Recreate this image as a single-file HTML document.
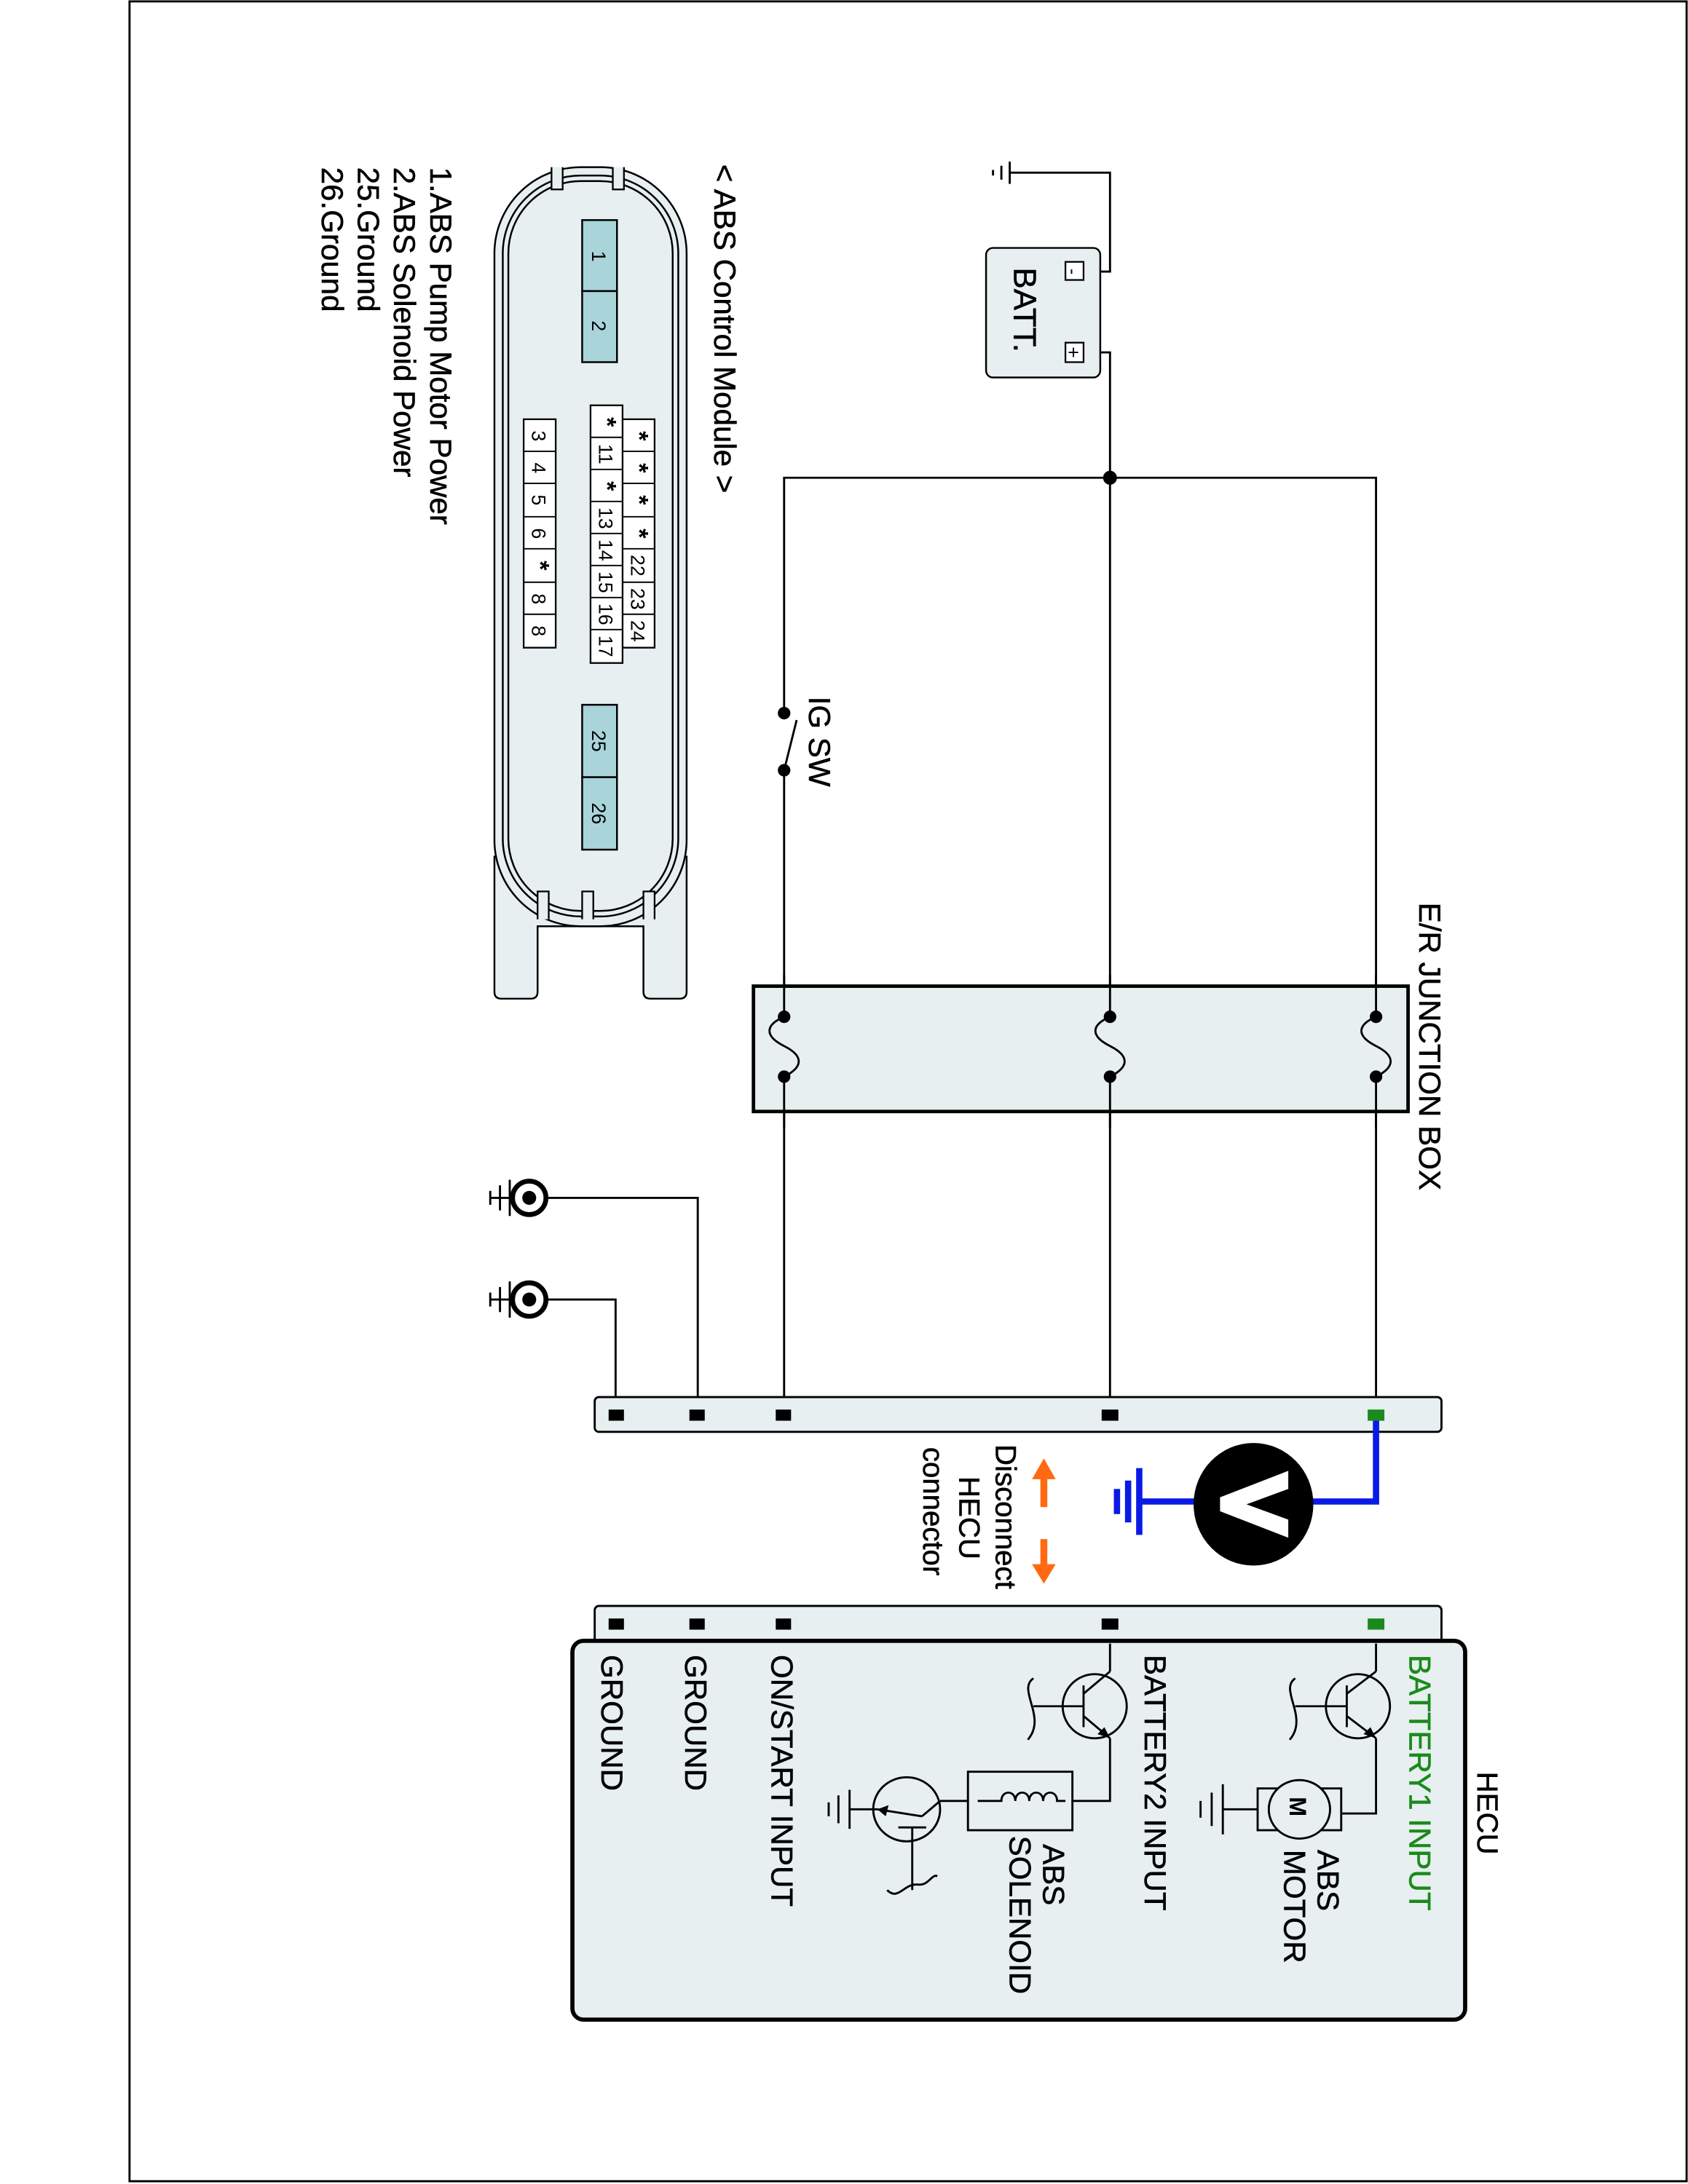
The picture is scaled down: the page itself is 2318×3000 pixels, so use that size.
<!DOCTYPE html>
<html><head><meta charset="utf-8"><style>html,body{margin:0;padding:0;background:#fff}svg{display:block}</style></head>
<body>
<svg width="2318" height="3000" viewBox="0 0 1212 1568" preserveAspectRatio="none" xmlns="http://www.w3.org/2000/svg" font-family="Liberation Sans, Arial, sans-serif">
<rect x="0" y="0" width="1212" height="1568" fill="#fff"/>
<rect x="93" y="1" width="1118" height="1565" fill="none" stroke="#000" stroke-width="1.5"/>

<!-- ABS module -->
<g stroke="#000" stroke-width="1.3" fill="#e7eff0">
<path d="M355,615 L355,712 Q355,717 360,717 L381,717 Q386,717 386,712 L386,665 L462,665 L462,712 Q462,717 467,717 L488,717 Q493,717 493,712 L493,615 Z"/>
<rect x="355" y="120" width="138" height="545" rx="62" ry="62"/>
<rect x="361" y="126" width="126" height="532" rx="56" ry="56" fill="none"/>
<rect x="365" y="130" width="118" height="524" rx="52" ry="52" fill="none"/>
</g>
<g stroke="#000" stroke-width="1.2" fill="#e7eff0">
<path d="M396,120 v16 h8 v-16"/><path d="M440,120 v16 h8 v-16"/>
<path d="M386,660 v-20 h8 v20"/><path d="M418,660 v-20 h8 v20"/><path d="M462,660 v-20 h8 v20"/>
</g>
<g stroke="#000" stroke-width="1.3" fill="#a8d4da">
<rect x="418" y="158" width="25" height="51"/><rect x="418" y="209" width="25" height="51"/>
<rect x="418" y="506" width="25" height="52"/><rect x="418" y="558" width="25" height="52"/>
</g>
<g stroke="#000" stroke-width="1.2" fill="#fff">
<rect x="447" y="301" width="23" height="164"/>
<rect x="424" y="291" width="23" height="185"/>
<rect x="376" y="301" width="23" height="164"/>
</g>
<g stroke="#000" stroke-width="1">
<line x1="447" y1="324" x2="470" y2="324"/><line x1="447" y1="347" x2="470" y2="347"/><line x1="447" y1="371" x2="470" y2="371"/><line x1="447" y1="394" x2="470" y2="394"/><line x1="447" y1="418" x2="470" y2="418"/><line x1="447" y1="441" x2="470" y2="441"/>
<line x1="424" y1="314" x2="447" y2="314"/><line x1="424" y1="337" x2="447" y2="337"/><line x1="424" y1="360" x2="447" y2="360"/><line x1="424" y1="383" x2="447" y2="383"/><line x1="424" y1="406" x2="447" y2="406"/><line x1="424" y1="429" x2="447" y2="429"/><line x1="424" y1="452" x2="447" y2="452"/>
<line x1="376" y1="324" x2="399" y2="324"/><line x1="376" y1="347" x2="399" y2="347"/><line x1="376" y1="371" x2="399" y2="371"/><line x1="376" y1="394" x2="399" y2="394"/><line x1="376" y1="418" x2="399" y2="418"/><line x1="376" y1="441" x2="399" y2="441"/>
</g>
<g font-size="14" fill="#000" text-anchor="middle">
<text transform="translate(425,184) rotate(90)">1</text>
<text transform="translate(425,234) rotate(90)">2</text>
<text transform="translate(425,532) rotate(90)">25</text>
<text transform="translate(425,584) rotate(90)">26</text>
<text transform="translate(453,313) rotate(90)" font-size="18" font-weight="bold">*</text>
<text transform="translate(453,336) rotate(90)" font-size="18" font-weight="bold">*</text>
<text transform="translate(453,359) rotate(90)" font-size="18" font-weight="bold">*</text>
<text transform="translate(453,383) rotate(90)" font-size="18" font-weight="bold">*</text>
<text transform="translate(453,406) rotate(90)">22</text>
<text transform="translate(453,430) rotate(90)">23</text>
<text transform="translate(453,453) rotate(90)">24</text>
<text transform="translate(430,303) rotate(90)" font-size="18" font-weight="bold">*</text>
<text transform="translate(430,326) rotate(90)">11</text>
<text transform="translate(430,349) rotate(90)" font-size="18" font-weight="bold">*</text>
<text transform="translate(430,372) rotate(90)">13</text>
<text transform="translate(430,395) rotate(90)">14</text>
<text transform="translate(430,418) rotate(90)">15</text>
<text transform="translate(430,441) rotate(90)">16</text>
<text transform="translate(430,464) rotate(90)">17</text>
<text transform="translate(382,313) rotate(90)">3</text>
<text transform="translate(382,336) rotate(90)">4</text>
<text transform="translate(382,359) rotate(90)">5</text>
<text transform="translate(382,383) rotate(90)">6</text>
<text transform="translate(382,406) rotate(90)" font-size="18" font-weight="bold">*</text>
<text transform="translate(382,430) rotate(90)">8</text>
<text transform="translate(382,453) rotate(90)">8</text>
</g>
<g font-size="22" fill="#000" stroke="#000" stroke-width="0.3">
<text transform="translate(513,118) rotate(90)">&lt; ABS Control Module &gt;</text>
<text transform="translate(309,120) rotate(90)">1.ABS Pump Motor Power</text>
<text transform="translate(283,120) rotate(90)">2.ABS Solenoid Power</text>
<text transform="translate(257,120) rotate(90)">25.Ground</text>
<text transform="translate(231,120) rotate(90)">26.Ground</text>
<text transform="translate(1019,648) rotate(90)">E/R JUNCTION BOX</text>
<text transform="translate(581,500) rotate(90)">IG SW</text>
</g>

<!-- battery -->
<g stroke="#000" stroke-width="1.5" fill="none">
<line x1="725" y1="116" x2="725" y2="132"/><line x1="719" y1="119" x2="719" y2="129"/><line x1="713" y1="122" x2="713" y2="126"/>
<polyline points="725,124 797,124 797,195 778,195"/>
<polyline points="778,253 797,253 797,1016"/>
<polyline points="988,1016 988,343 563,343 563,512"/>
<line x1="563" y1="553" x2="563" y2="1016"/>
<line x1="563" y1="553" x2="572" y2="517"/>
</g>
<rect x="708" y="178" width="82" height="93" rx="5" fill="#e7eff0" stroke="#000" stroke-width="1.3"/>
<rect x="765" y="188" width="13" height="13" fill="#fff" stroke="#000" stroke-width="1.2"/>
<rect x="765" y="246" width="13" height="14" fill="#fff" stroke="#000" stroke-width="1.2"/>
<text transform="translate(766,195) rotate(90)" font-size="13" text-anchor="middle">-</text>
<text transform="translate(766,253) rotate(90)" font-size="14" text-anchor="middle">+</text>
<text transform="translate(728,192) rotate(90)" font-size="23" stroke="#000" stroke-width="0.3">BATT.</text>
<circle cx="797" cy="343" r="5" fill="#000"/>
<circle cx="563" cy="512" r="4.5" fill="#000"/><circle cx="563" cy="553" r="4.5" fill="#000"/>

<!-- junction box -->
<rect x="541" y="708" width="470" height="90" fill="#e7eff0" stroke="#000" stroke-width="2"/>
<g stroke="#000" stroke-width="1.5" fill="none">
<line x1="988" y1="700" x2="988" y2="730"/><line x1="988" y1="773" x2="988" y2="810"/>
<line x1="797" y1="700" x2="797" y2="730"/><line x1="797" y1="773" x2="797" y2="810"/>
<line x1="563" y1="700" x2="563" y2="730"/><line x1="563" y1="773" x2="563" y2="810"/>
<path d="M988,730 c-14,6 -14,14 0,21 c14,7 14,15 0,22"/>
<path d="M797,730 c-14,6 -14,14 0,21 c14,7 14,15 0,22"/>
<path d="M563,730 c-14,6 -14,14 0,21 c14,7 14,15 0,22"/>
</g>
<g fill="#000">
<circle cx="988" cy="730" r="4.5"/><circle cx="988" cy="773" r="4.5"/>
<circle cx="797" cy="730" r="4.5"/><circle cx="797" cy="773" r="4.5"/>
<circle cx="563" cy="730" r="4.5"/><circle cx="563" cy="773" r="4.5"/>
</g>
<rect x="541" y="708" width="470" height="90" fill="none" stroke="#000" stroke-width="2.5"/>

<!-- ground wires -->
<g stroke="#000" stroke-width="1.5" fill="none">
<polyline points="501,1016 501,860 392,860"/>
<polyline points="442,1016 442,933 392,933"/>
<line x1="366" y1="860" x2="352" y2="860"/><line x1="366" y1="933" x2="352" y2="933"/>
<line x1="366" y1="847" x2="366" y2="873"/><line x1="359" y1="851" x2="359" y2="869"/><line x1="352" y1="855" x2="352" y2="865"/>
<line x1="366" y1="920" x2="366" y2="946"/><line x1="359" y1="924" x2="359" y2="942"/><line x1="352" y1="928" x2="352" y2="938"/>
</g>
<circle cx="380" cy="860" r="12" fill="#fff" stroke="#000" stroke-width="3.5"/><circle cx="380" cy="860" r="5" fill="#000"/>
<circle cx="380" cy="933" r="12" fill="#fff" stroke="#000" stroke-width="3.5"/><circle cx="380" cy="933" r="5" fill="#000"/>

<!-- connector bar upper -->
<rect x="427" y="1003" width="608" height="25" rx="3" fill="#e7eff0" stroke="#000" stroke-width="1.5"/>
<g fill="#000"><rect x="437" y="1012" width="11" height="8"/><rect x="495" y="1012" width="11" height="8"/><rect x="557" y="1012" width="11" height="8"/><rect x="791" y="1012" width="12" height="8"/></g>
<rect x="982" y="1012" width="12" height="8" fill="#1a8a1a"/>

<!-- voltmeter -->
<g stroke="#0a1ae6" stroke-width="4.5" fill="none">
<polyline points="988,1020 988,1078 940,1078"/>
<line x1="860" y1="1078" x2="818" y2="1078"/>
<line x1="818" y1="1054" x2="818" y2="1102"/><line x1="810" y1="1063" x2="810" y2="1093"/><line x1="802" y1="1069" x2="802" y2="1087"/>
</g>
<ellipse cx="900" cy="1080" rx="43" ry="44" fill="#000"/>
<polygon points="925,1056 925,1069 895,1080 925,1091 925,1104 876,1085 876,1075" fill="#fff"/>

<!-- orange arrows -->
<g fill="#ff6a13" stroke="none">
<rect x="747" y="1060" width="5" height="22"/><polygon points="741,1062 758,1062 749.5,1047"/>
<rect x="747" y="1105" width="5" height="22"/><polygon points="741,1123 758,1123 749.5,1137"/>
</g>
<g font-size="21" fill="#000" stroke="#000" stroke-width="0.3">
<text transform="translate(715,1037) rotate(90)">Disconnect</text>
<text transform="translate(689,1060) rotate(90)">HECU</text>
<text transform="translate(663,1039) rotate(90)">connector</text>
</g>

<!-- HECU -->
<rect x="427" y="1153" width="608" height="40" rx="3" fill="#e7eff0" stroke="#000" stroke-width="1.5"/>
<g fill="#000"><rect x="437" y="1162" width="11" height="8"/><rect x="495" y="1162" width="11" height="8"/><rect x="557" y="1162" width="11" height="8"/><rect x="791" y="1162" width="12" height="8"/></g>
<rect x="982" y="1162" width="12" height="8" fill="#1a8a1a"/>
<rect x="411" y="1178" width="641" height="272" rx="8" fill="#e7eff0" stroke="#000" stroke-width="3"/>
<text transform="translate(1061,1272) rotate(90)" font-size="21" stroke="#000" stroke-width="0.3">HECU</text>

<g stroke="#000" stroke-width="1.5" fill="none">
<circle cx="975" cy="1225" r="23"/>
<line x1="988" y1="1180" x2="988" y2="1200"/>
<line x1="988" y1="1200" x2="967" y2="1216"/>
<line x1="967" y1="1210" x2="967" y2="1240"/>
<line x1="967" y1="1232" x2="988" y2="1248"/>
<polyline points="988,1248 988,1302 963,1302"/>
<line x1="967" y1="1225" x2="930" y2="1225"/>
<path d="M930,1205 c-12,8 10,28 -4,44"/>
<rect x="903" y="1284" width="60" height="30"/>
<ellipse cx="933" cy="1299" rx="22" ry="21" fill="#e7eff0"/>
<line x1="903" y1="1299" x2="878" y2="1299"/>
<line x1="878" y1="1281" x2="878" y2="1317"/><line x1="870" y1="1287" x2="870" y2="1311"/><line x1="862" y1="1293" x2="862" y2="1305"/>
<circle cx="786" cy="1225" r="23"/>
<line x1="797" y1="1180" x2="797" y2="1200"/>
<line x1="797" y1="1200" x2="778" y2="1216"/>
<line x1="778" y1="1210" x2="778" y2="1240"/>
<line x1="778" y1="1232" x2="797" y2="1248"/>
<polyline points="797,1248 797,1293 770,1293"/>
<line x1="778" y1="1225" x2="742" y2="1225"/>
<path d="M742,1205 c-12,8 10,28 -4,44"/>
<rect x="695" y="1272" width="75" height="42"/>
<path d="M765,1293 h-6 c0,-8 -10,-8 -10,0 c0,-8 -10,-8 -10,0 c0,-8 -10,-8 -10,0 c0,-8 -10,-8 -10,0 h-17" />
<line x1="695" y1="1293" x2="675" y2="1293"/>
<ellipse cx="651" cy="1299" rx="24" ry="23"/>
<line x1="675" y1="1293" x2="662" y2="1304"/>
<line x1="630" y1="1299" x2="662" y2="1304"/>
<line x1="645" y1="1312" x2="665" y2="1312"/>
<line x1="655" y1="1312" x2="655" y2="1357"/>
<path d="M637,1357 c8,8 12,-5 22,-4 c8,1 10,-8 14,-6"/>
<line x1="630" y1="1299" x2="610" y2="1299"/>
<line x1="610" y1="1285" x2="610" y2="1313"/><line x1="602" y1="1289" x2="602" y2="1309"/><line x1="595" y1="1294" x2="595" y2="1304"/>
</g>
<polygon points="988,1248 979,1245 984,1240" fill="#000"/>
<polygon points="797,1248 788,1245 793,1240" fill="#000"/>
<polygon points="630,1299 638,1296 636,1304" fill="#000"/>
<text transform="translate(926,1290) rotate(90)" font-size="17" font-weight="bold">M</text>

<g font-size="22" fill="#000" stroke="#000" stroke-width="0.3">
<text transform="translate(1012,1188) rotate(90)" fill="#1a8a1a" stroke="#1a8a1a">BATTERY1 INPUT</text>
<text transform="translate(946,1328) rotate(90)">ABS</text>
<text transform="translate(922,1328) rotate(90)">MOTOR</text>
<text transform="translate(822,1188) rotate(90)">BATTERY2 INPUT</text>
<text transform="translate(749,1324) rotate(90)">ABS</text>
<text transform="translate(725,1318) rotate(90)">SOLENOID</text>
<text transform="translate(554,1188) rotate(90)">ON/START INPUT</text>
<text transform="translate(492,1188) rotate(90)">GROUND</text>
<text transform="translate(432,1188) rotate(90)">GROUND</text>
</g>
</svg>
</body></html>
